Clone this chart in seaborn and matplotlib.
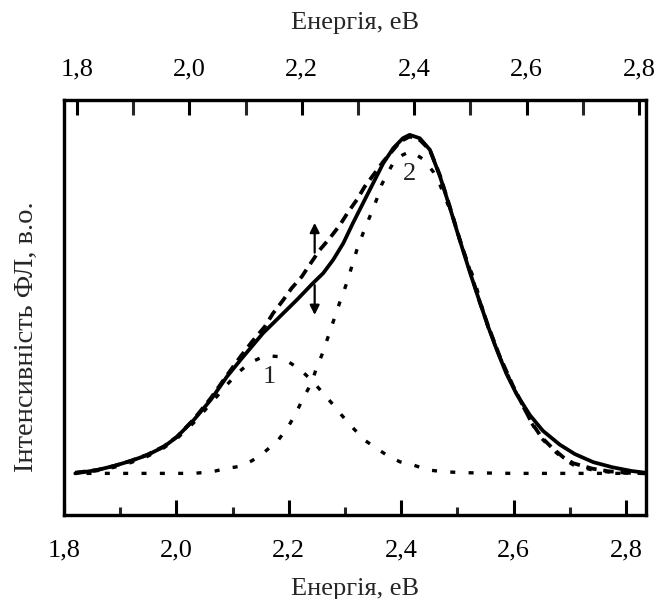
import numpy as np
import pandas as pd
import matplotlib
matplotlib.use("Agg")
import matplotlib.pyplot as plt
from matplotlib.ticker import MultipleLocator, FuncFormatter
import seaborn as sns

# ---- data (energy in eV, intensity in arb. units) ----
E_exp = [1.820, 1.840, 1.859, 1.889, 1.919, 1.948, 1.978, 2.001, 2.031, 2.061,
         2.090, 2.114, 2.154, 2.184, 2.214, 2.243, 2.261, 2.279, 2.297, 2.314,
         2.332, 2.350, 2.368, 2.386, 2.403, 2.415, 2.433, 2.451, 2.469, 2.486,
         2.504, 2.522, 2.540, 2.555, 2.570, 2.587, 2.605, 2.629, 2.652, 2.682,
         2.709, 2.742, 2.776, 2.810, 2.834]
I_exp = [0.000, 0.005, 0.010, 0.022, 0.037, 0.054, 0.079, 0.108, 0.158, 0.217,
         0.286, 0.335, 0.414, 0.463, 0.512, 0.562, 0.591, 0.631, 0.680, 0.739,
         0.798, 0.857, 0.916, 0.961, 0.990, 1.000, 0.990, 0.956, 0.877, 0.788,
         0.690, 0.595, 0.505, 0.432, 0.365, 0.295, 0.235, 0.172, 0.126, 0.085,
         0.057, 0.033, 0.018, 0.007, 0.002]

E_fit = [1.820, 1.859, 1.889, 1.919, 1.948, 1.978, 2.001, 2.031, 2.061, 2.090,
         2.114, 2.135, 2.157, 2.172, 2.190, 2.205, 2.223, 2.237, 2.255, 2.273,
         2.291, 2.306, 2.321, 2.335, 2.353, 2.368, 2.386, 2.398, 2.415, 2.433,
         2.451, 2.469, 2.486, 2.504, 2.522, 2.540, 2.555, 2.575, 2.599, 2.617,
         2.632, 2.650, 2.667, 2.688, 2.706, 2.740, 2.770, 2.800, 2.834]
I_fit = [0.002, 0.010, 0.022, 0.037, 0.055, 0.080, 0.108, 0.160, 0.222, 0.290,
         0.345, 0.390, 0.433, 0.473, 0.512, 0.547, 0.581, 0.616, 0.660, 0.695,
         0.734, 0.773, 0.808, 0.847, 0.887, 0.921, 0.956, 0.980, 0.995, 0.985,
         0.955, 0.880, 0.790, 0.692, 0.600, 0.505, 0.434, 0.347, 0.258, 0.199,
         0.150, 0.106, 0.078, 0.048, 0.030, 0.014, 0.006, 0.002, 0.000]

E_c1 = [1.820, 1.859, 1.889, 1.919, 1.948, 1.978, 2.001, 2.031, 2.061, 2.090,
        2.110, 2.131, 2.152, 2.166, 2.181, 2.199, 2.220, 2.243, 2.264, 2.282,
        2.294, 2.312, 2.335, 2.356, 2.377, 2.398, 2.421, 2.448, 2.475, 2.510,
        2.600, 2.700, 2.800]
I_c1 = [0.002, 0.008, 0.018, 0.032, 0.050, 0.076, 0.103, 0.150, 0.206, 0.262,
        0.298, 0.327, 0.343, 0.347, 0.345, 0.330, 0.307, 0.271, 0.231, 0.197,
        0.172, 0.138, 0.098, 0.074, 0.051, 0.034, 0.025, 0.010, 0.005, 0.002,
        0.000, 0.000, 0.000]

E_c2 = [1.840, 1.900, 1.980, 2.031, 2.064, 2.090, 2.110, 2.134, 2.154, 2.181,
        2.197, 2.211, 2.224, 2.240, 2.248, 2.260, 2.270, 2.279, 2.291, 2.303,
        2.312, 2.321, 2.332, 2.344, 2.356, 2.365, 2.374, 2.389, 2.403, 2.415,
        2.428, 2.439, 2.457, 2.469, 2.492, 2.504, 2.516, 2.528, 2.537, 2.546,
        2.555, 2.575, 2.599, 2.617, 2.632, 2.650, 2.667, 2.688, 2.706, 2.740,
        2.769, 2.800, 2.834]
I_c2 = [0.000, 0.000, 0.000, 0.000, 0.005, 0.015, 0.020, 0.037, 0.059, 0.098,
        0.133, 0.172, 0.217, 0.266, 0.305, 0.355, 0.404, 0.448, 0.507, 0.562,
        0.611, 0.660, 0.709, 0.758, 0.808, 0.852, 0.882, 0.926, 0.941, 0.950,
        0.940, 0.928, 0.891, 0.852, 0.758, 0.690, 0.631, 0.581, 0.532, 0.478,
        0.429, 0.345, 0.256, 0.197, 0.148, 0.103, 0.074, 0.044, 0.025, 0.010,
        0.004, 0.001, 0.000]

peak_labels = ["1", "2"]
peak_label_E = [2.165, 2.414]
peak_label_I = [0.285, 0.885]

arrow_E = 2.246
arrow_up = (0.652, 0.740)
arrow_down = (0.556, 0.468)

tick_labels = ["1,8", "2,0", "2,2", "2,4", "2,6", "2,8"]
xlabel = "Енергія, еВ"
ylabel = "Інтенсивність ФЛ, в.о."

# ---- style ----
sns.set_theme(style="white")
plt.rcParams["font.family"] = ["Liberation Serif", "DejaVu Serif"]
plt.rcParams["font.size"] = 19
plt.rcParams["axes.edgecolor"] = "black"
plt.rcParams["axes.linewidth"] = 2.3
FS = 19

fig = plt.figure(figsize=(6.58, 5.99), dpi=100)
ax = fig.add_axes([0.0973, 0.1402, 0.8845, 0.6929])

df_exp = pd.DataFrame({"E": E_exp, "I": I_exp})
df_fit = pd.DataFrame({"E": E_fit, "I": I_fit})
df_c1 = pd.DataFrame({"E": E_c1, "I": I_c1})
df_c2 = pd.DataFrame({"E": E_c2, "I": I_c2})

sns.lineplot(data=df_c1, x="E", y="I", ax=ax, color="black", lw=2.4,
             sort=False, estimator=None)
ax.lines[-1].set_dashes((1.5, 4.0))
sns.lineplot(data=df_c2, x="E", y="I", ax=ax, color="black", lw=2.4,
             sort=False, estimator=None)
ax.lines[-1].set_dashes((1.5, 4.0))
sns.lineplot(data=df_fit, x="E", y="I", ax=ax, color="black", lw=2.7,
             sort=False, estimator=None)
ax.lines[-1].set_dashes((2.8, 1.8))
sns.lineplot(data=df_exp, x="E", y="I", ax=ax, color="black", lw=2.7,
             sort=False, estimator=None)
for ln in ax.lines:
    ln.set_solid_joinstyle("round")
    ln.set_dash_joinstyle("round")

for t, xe, yi in zip(peak_labels, peak_label_E, peak_label_I):
    ax.text(xe, yi, t, ha="center", va="center", fontsize=FS, color="#222222")

ax.annotate("", xy=(arrow_E, arrow_up[1]), xytext=(arrow_E, arrow_up[0]),
            arrowprops=dict(arrowstyle="-|>", color="black", lw=1.6,
                            mutation_scale=14, shrinkA=0, shrinkB=0))
ax.annotate("", xy=(arrow_E, arrow_down[1]), xytext=(arrow_E, arrow_down[0]),
            arrowprops=dict(arrowstyle="-|>", color="black", lw=1.6,
                            mutation_scale=14, shrinkA=0, shrinkB=0))

fmt = FuncFormatter(lambda v, p: f"{v:.1f}".replace(".", ","))

ax.set_xlim(1.8, 2.8356)
ax.set_ylim(-0.123, 1.103)
ax.set_yticks([])
ax.set_ylabel(ylabel, fontsize=20.5)
ax.yaxis.set_label_coords(-0.044, 0.43)
ax.set_xlabel(xlabel, fontsize=FS, labelpad=12)
ax.xaxis.set_major_locator(MultipleLocator(0.2))
ax.xaxis.set_minor_locator(MultipleLocator(0.1))
ax.xaxis.set_major_formatter(fmt)
ax.tick_params(axis="x", which="major", direction="in", length=11, width=2.2,
               pad=17.5, bottom=True, top=False, colors="black", labelsize=FS)
ax.tick_params(axis="x", which="minor", direction="in", length=6, width=2.2,
               bottom=True, top=False)

ax2 = ax.twiny()
ax2.set_xlim(1.777, 2.8125)
ax2.xaxis.set_major_locator(MultipleLocator(0.2))
ax2.xaxis.set_minor_locator(MultipleLocator(0.1))
ax2.xaxis.set_major_formatter(fmt)
ax2.set_xlabel(xlabel, fontsize=FS, labelpad=21)
ax2.tick_params(axis="x", which="major", direction="in", length=11, width=2.2,
                pad=14, top=True, bottom=False, colors="black", labelsize=FS)
ax2.tick_params(axis="x", which="minor", direction="in", length=11, width=2.2,
                top=True, bottom=False)
ax2.set_yticks([])

for a in (ax, ax2):
    for s in a.spines.values():
        s.set_visible(True)
        s.set_color("black")
        s.set_linewidth(2.3)

fig.savefig("out.png", dpi=100, facecolor="white")
